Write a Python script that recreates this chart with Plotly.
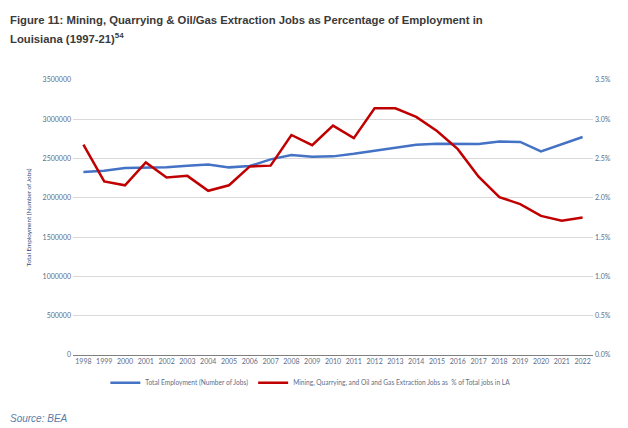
import plotly.graph_objects as go

years = [str(y) for y in range(1998, 2023)]
employment = [2328000, 2345000, 2379000, 2388000, 2388000, 2410000, 2426000, 2388000,
              2405000, 2490000, 2545000, 2523000, 2528000, 2560000, 2600000, 2640000,
              2675000, 2690000, 2685000, 2685000, 2718000, 2712000, 2590000, 2685000, 2774000]
mining_pct = [0.02676, 0.0221, 0.0216, 0.0245, 0.0226, 0.0228, 0.0209, 0.0216,
              0.0240, 0.0241, 0.0280, 0.0267, 0.0292, 0.0276, 0.0314, 0.0314,
              0.0303, 0.0285, 0.0262, 0.0227, 0.0201, 0.0192, 0.0177, 0.0171, 0.0175]

title_line1 = "Figure 11: Mining, Quarrying & Oil/Gas Extraction Jobs as Percentage of Employment in"
title_line2 = "Louisiana (1997-21)<sup>54</sup>"

FONT = "Lato, Liberation Sans, sans-serif"
TXT = "#5E6E87"
tick_font = dict(family=FONT, size=7, color=TXT)

W, H = 620, 420
L, R, T, B = 64.6, 34.6, 72, 73
pw, ph = W - L - R, H - T - B


def px(x):
    return (x - L) / pw


def py(y):
    return 1 - (y - T) / ph


fig = go.Figure()
fig.add_trace(go.Scatter(x=years, y=employment, mode="lines", name="Total Employment (Number of Jobs)",
                         line=dict(color="#4472C4", width=2.5)))
fig.add_trace(go.Scatter(x=years, y=mining_pct, mode="lines", yaxis="y2",
                         name="Mining, Quarrying, and Oil and Gas Extraction Jobs as  % of Total jobs in LA",
                         line=dict(color="#C00000", width=2.5)))

fig.update_layout(
    width=W, height=H,
    margin=dict(l=L, r=R, t=T, b=B, autoexpand=False),
    paper_bgcolor="white", plot_bgcolor="white",
    showlegend=True,
    legend=dict(orientation="h", x=px(97), xanchor="left", y=py(374.7), yanchor="middle",
                font=dict(family=FONT, size=6.6, color=TXT),
                itemwidth=30, tracegroupgap=0, bgcolor="rgba(0,0,0,0)"),
    xaxis=dict(type="category", range=[-0.5, 24.5], tickfont=tick_font, showgrid=False,
               showline=True, linecolor="#7F7F7F", linewidth=1, ticks="", fixedrange=True,
               automargin=False),
    yaxis=dict(range=[0, 3500000], dtick=500000, tickformat="d", tickfont=tick_font,
               showgrid=True, gridcolor="#D9D9D9", gridwidth=1, zeroline=False,
               title=dict(text="Total Employment (Number of Jobs)",
                          font=dict(family=FONT, size=6.3, color="#2F4A7A"),
                          standoff=10),
               ticks="", ticklabelstandoff=1, automargin=False),
    yaxis2=dict(range=[0, 0.035], dtick=0.005, tickformat=".1%", tickfont=tick_font,
                overlaying="y", side="right", showgrid=False, zeroline=False, ticks="",
                ticklabelstandoff=1, automargin=False),
)
fig.add_annotation(text="<b>" + title_line1 + "</b>",
                   xref="paper", yref="paper", x=px(-1), y=py(12), xanchor="left", yanchor="middle",
                   align="left", showarrow=False,
                   font=dict(family="Liberation Sans, Arial, sans-serif", size=11.3, color="#3A3A3A"))
fig.add_annotation(text="<b>" + title_line2 + "</b>",
                   xref="paper", yref="paper", x=px(-1), y=py(30), xanchor="left", yanchor="middle",
                   align="left", showarrow=False,
                   font=dict(family="Liberation Sans, Arial, sans-serif", size=11.3, color="#3A3A3A"))
fig.add_annotation(text="<i>Source: BEA</i>", xref="paper", yref="paper", x=px(-1), y=py(410),
                   xanchor="left", yanchor="middle", showarrow=False,
                   font=dict(family="Liberation Sans, Arial, sans-serif", size=10, color="#5B7DA8"))

fig.write_html("out.html")
